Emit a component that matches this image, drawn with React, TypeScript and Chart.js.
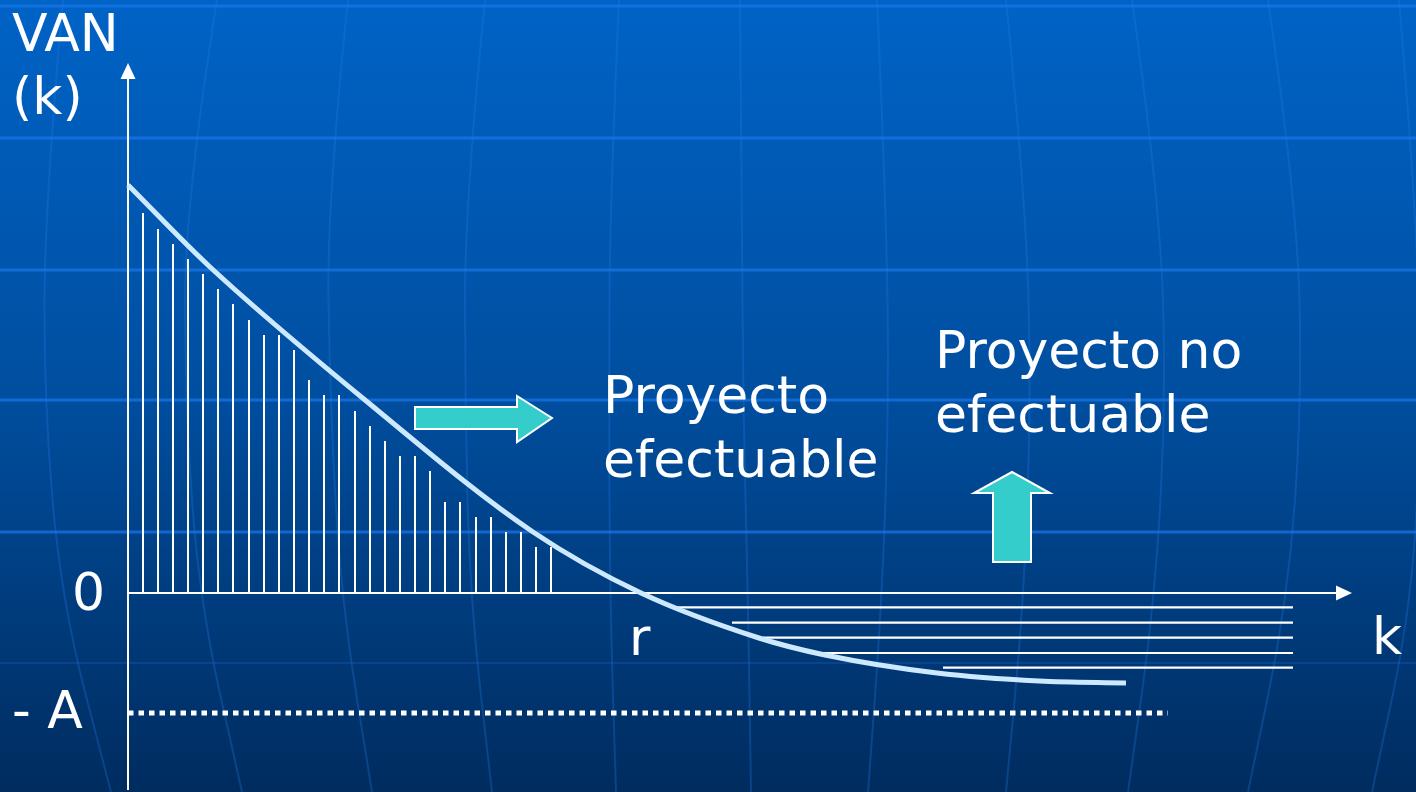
import React, { useEffect, useRef } from "react";
import { Chart, registerables } from "chart.js";

Chart.register(...registerables);

// ---- data (k on x, VAN(k) on y; arbitrary units) ----
const curveK = [0, 0.82, 2.37, 4.05, 5.13, 6.31, 6.97, 8.09, 9.11, 9.98];
const curveVAN = [4.08, 3.26, 1.93, 0.61, 0.0, -0.45, -0.62, -0.8, -0.88, -0.9];

const hatchK = [0.15, 0.3, 0.45, 0.6, 0.75, 0.9, 1.05, 1.21, 1.36, 1.51, 1.66, 1.81, 1.96, 2.11, 2.27, 2.42, 2.57, 2.72, 2.87, 3.02, 3.17, 3.32, 3.48, 3.63, 3.78, 3.93, 4.08, 4.23];
const hatchVAN = [3.8, 3.64, 3.49, 3.34, 3.19, 3.04, 2.89, 2.73, 2.58, 2.58, 2.43, 2.13, 1.98, 1.98, 1.82, 1.67, 1.52, 1.37, 1.37, 1.22, 0.91, 0.91, 0.76, 0.76, 0.61, 0.61, 0.46, 0.46];

const rowVAN = [-0.143, -0.297, -0.447, -0.6, -0.747];
const rowStartK = [5.46, 6.04, 6.35, 6.94, 8.15];
const rowEndK = [11.65, 11.65, 11.65, 11.65, 11.65];

const minusA = -1.2;
const minusAEndK = 10.4;
const rK = 5.13;

const axisYMin = -1.97;
const axisYTip = 5.3;
const axisXTip = 12.24;

const X_MIN = -1.28;
const X_MAX = 12.88;
const Y_MIN = -1.99;
const Y_MAX = 5.93;

// annotation shapes (data units)
const rightArrow: [number, number][] = [
  [2.87, 1.86], [3.89, 1.86], [3.89, 1.97], [4.24, 1.75], [3.89, 1.51], [3.89, 1.64], [2.87, 1.64],
];
const upArrow: [number, number][] = [
  [8.65, 0.31], [8.65, 1.0], [8.46, 1.0], [8.84, 1.21], [9.22, 1.0], [9.03, 1.0], [9.03, 0.31],
];

// text annotations: [text, k, VAN(baseline), align]
const labels: [string, number, number, CanvasTextAlign][] = [
  ["VAN", -1.16, 5.42, "left"],
  ["(k)", -1.16, 4.79, "left"],
  ["Proyecto", 4.75, 1.8, "left"],
  ["efectuable", 4.75, 1.16, "left"],
  ["Proyecto no", 8.07, 2.25, "left"],
  ["efectuable", 8.07, 1.61, "left"],
  ["0", -0.23, -0.17, "right"],
  ["- A", -1.16, -1.35, "left"],
  ["r", rK - 0.12, -0.62, "left"],
  ["k", 12.44, -0.61, "left"],
];

// decorative background (pixel space)
const bgParallels = [6, 138, 270, 400, 532];
const bgMeridians = [
  [63, 45, 44, 61, 111],
  [217, 185, 185, 199, 242],
  [348, 327, 330, 341, 372],
  [485, 465, 465, 470, 492],
  [619, 610, 609, 610, 616],
  [740, 742, 743, 748, 751],
  [877, 886, 889, 882, 868],
  [1006, 1026, 1031, 1024, 1006],
  [1132, 1160, 1166, 1155, 1128],
  [1268, 1297, 1302, 1288, 1248],
  [1399, 1416, 1421, 1413, 1372],
];

const W = 1416;
const H = 792;
const FONT = '52px "DejaVu Sans", Verdana, sans-serif';

const bgPlugin = {
  id: "bgDecor",
  beforeDraw(chart: any) {
    const { ctx, width, height } = chart;
    ctx.save();
    const g = ctx.createLinearGradient(0, 0, 0, height);
    g.addColorStop(0, "#0063C6");
    g.addColorStop(0.5, "#004E9F");
    g.addColorStop(1, "#002C5F");
    ctx.fillStyle = g;
    ctx.fillRect(0, 0, width, height);

    // meridians
    ctx.strokeStyle = "rgba(35,125,235,0.28)";
    ctx.lineWidth = 2;
    const ys = [0, 200, 400, 600, height];
    bgMeridians.forEach((m) => {
      ctx.beginPath();
      ctx.moveTo(m[0], ys[0]);
      for (let i = 1; i < m.length - 1; i++) {
        const mx = (m[i] + m[i + 1]) / 2;
        const my = (ys[i] + ys[i + 1]) / 2;
        ctx.quadraticCurveTo(m[i], ys[i], mx, my);
      }
      ctx.lineTo(m[m.length - 1], ys[ys.length - 1]);
      ctx.stroke();
    });

    // parallels
    ctx.strokeStyle = "rgba(25,120,235,0.7)";
    ctx.lineWidth = 3;
    bgParallels.forEach((y) => {
      ctx.beginPath();
      ctx.moveTo(0, y);
      ctx.lineTo(width, y);
      ctx.stroke();
    });
    ctx.strokeStyle = "rgba(25,100,200,0.3)";
    ctx.lineWidth = 2;
    ctx.beginPath();
    ctx.moveTo(0, 663);
    ctx.lineTo(width, 663);
    ctx.stroke();
    ctx.restore();
  },
};

const axesPlugin = {
  id: "axesArrows",
  beforeDatasetsDraw(chart: any) {
    const { ctx } = chart;
    const xs = chart.scales.x;
    const ysc = chart.scales.y;
    const x0 = xs.getPixelForValue(0);
    const y0 = ysc.getPixelForValue(0);
    ctx.save();
    ctx.strokeStyle = "#FFFFFF";
    ctx.fillStyle = "#FFFFFF";
    ctx.lineWidth = 2;
    // y axis
    const yTop = ysc.getPixelForValue(axisYTip);
    ctx.beginPath();
    ctx.moveTo(x0, ysc.getPixelForValue(axisYMin));
    ctx.lineTo(x0, yTop + 10);
    ctx.stroke();
    ctx.beginPath();
    ctx.moveTo(x0, yTop);
    ctx.lineTo(x0 - 7.5, yTop + 16);
    ctx.lineTo(x0 + 7.5, yTop + 16);
    ctx.closePath();
    ctx.fill();
    // x axis
    const xTip = xs.getPixelForValue(axisXTip);
    ctx.beginPath();
    ctx.moveTo(x0, y0);
    ctx.lineTo(xTip - 10, y0);
    ctx.stroke();
    ctx.beginPath();
    ctx.moveTo(xTip, y0);
    ctx.lineTo(xTip - 16, y0 - 7.5);
    ctx.lineTo(xTip - 16, y0 + 7.5);
    ctx.closePath();
    ctx.fill();
    ctx.restore();
  },
  afterDatasetsDraw(chart: any) {
    const { ctx } = chart;
    const xs = chart.scales.x;
    const ysc = chart.scales.y;
    ctx.save();
    // block arrows
    [rightArrow, upArrow].forEach((poly) => {
      ctx.beginPath();
      poly.forEach(([k, v], i) => {
        const px = xs.getPixelForValue(k);
        const py = ysc.getPixelForValue(v);
        if (i === 0) ctx.moveTo(px, py);
        else ctx.lineTo(px, py);
      });
      ctx.closePath();
      ctx.fillStyle = "#35CCCC";
      ctx.fill();
      ctx.strokeStyle = "#FFFFFF";
      ctx.lineWidth = 2;
      ctx.lineJoin = "miter";
      ctx.stroke();
    });
    // texts
    ctx.font = FONT;
    ctx.fillStyle = "#FFFFFF";
    ctx.textBaseline = "alphabetic";
    labels.forEach(([t, k, v, align]) => {
      ctx.textAlign = align;
      ctx.fillText(t, xs.getPixelForValue(k), ysc.getPixelForValue(v));
    });
    ctx.restore();
  },
};

export default function App() {
  const canvasRef = useRef<HTMLCanvasElement | null>(null);

  useEffect(() => {
    const canvas = canvasRef.current;
    if (!canvas) return;

    const curveData = curveK.map((k, i) => ({ x: k, y: curveVAN[i] }));
    const hatchData: any[] = [];
    hatchK.forEach((k, i) => {
      hatchData.push({ x: k, y: 0 }, { x: k, y: hatchVAN[i] }, { x: k, y: null });
    });
    const rowData: any[] = [];
    rowVAN.forEach((v, i) => {
      rowData.push({ x: rowStartK[i], y: v }, { x: rowEndK[i], y: v }, { x: rowEndK[i], y: null });
    });
    const dottedData = [
      { x: 0, y: minusA },
      { x: minusAEndK, y: minusA },
    ];

    const chart = new Chart(canvas, {
      type: "line",
      data: {
        datasets: [
          {
            label: "VAN(k)",
            data: curveData,
            borderColor: "#CDE9FF",
            borderWidth: 5,
            pointRadius: 0,
            cubicInterpolationMode: "monotone",
            fill: false,
          },
          {
            label: "VAN > 0",
            data: hatchData,
            borderColor: "#FFFFFF",
            borderWidth: 2,
            pointRadius: 0,
            spanGaps: false,
            tension: 0,
            fill: false,
          },
          {
            label: "VAN < 0",
            data: rowData,
            borderColor: "#FFFFFF",
            borderWidth: 2.2,
            pointRadius: 0,
            spanGaps: false,
            tension: 0,
            fill: false,
          },
          {
            label: "-A",
            data: dottedData,
            borderColor: "#FFFFFF",
            borderWidth: 5,
            borderDash: [5.5, 5],
            borderCapStyle: "butt",
            pointRadius: 0,
            tension: 0,
            fill: false,
          },
        ],
      } as any,
      options: {
        responsive: false,
        maintainAspectRatio: false,
        animation: false,
        devicePixelRatio: 1,
        layout: { padding: 0 },
        events: [],
        plugins: {
          legend: { display: false },
          tooltip: { enabled: false },
          title: { display: false },
        },
        scales: {
          x: { type: "linear", display: false, min: X_MIN, max: X_MAX, offset: false },
          y: { type: "linear", display: false, min: Y_MIN, max: Y_MAX },
        },
      } as any,
      plugins: [bgPlugin, axesPlugin],
    });

    return () => chart.destroy();
  }, []);

  return (
    <div style={{ position: "absolute", left: 0, top: 0, width: W, height: H, overflow: "hidden" }}>
      <canvas ref={canvasRef} width={W} height={H} style={{ display: "block", width: W, height: H }} />
    </div>
  );
}
